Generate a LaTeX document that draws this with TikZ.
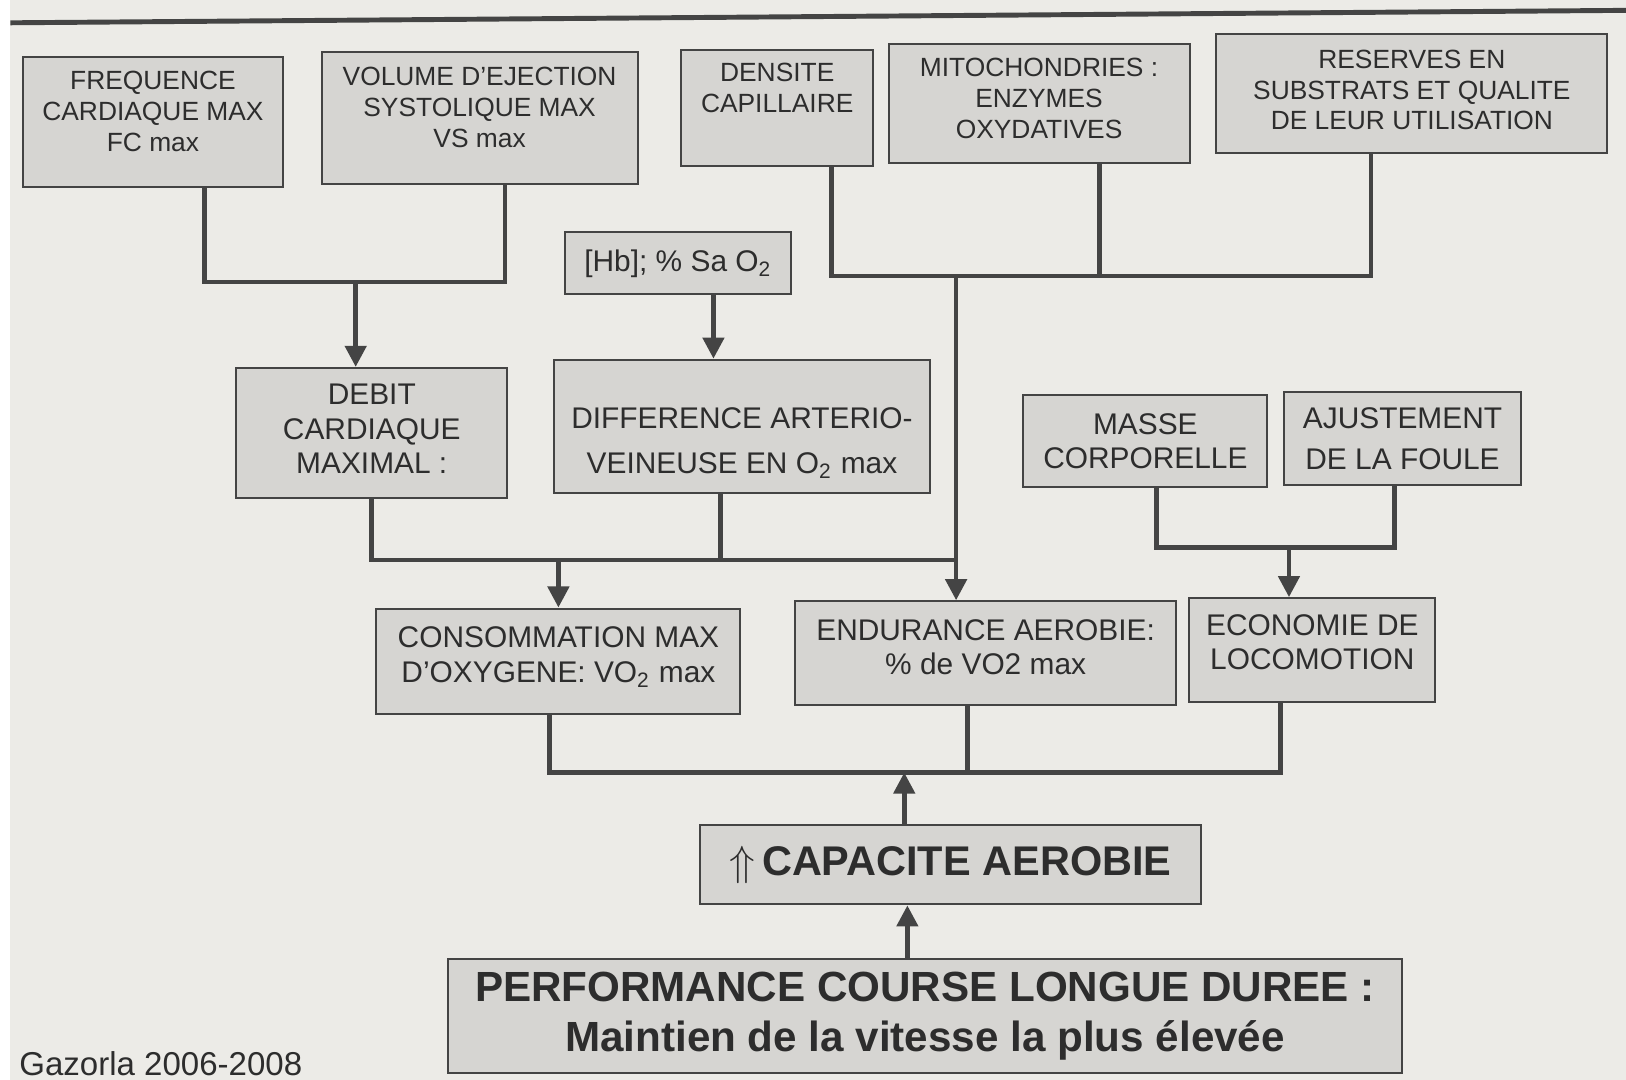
\documentclass[tikz,border=0pt]{standalone}
\usepackage{fontspec}
\setmainfont{Liberation Sans}
\usepackage{xcolor}
\usepackage{tikz}
\usetikzlibrary{arrows.meta}

\definecolor{fondo}{RGB}{236,235,231}
\definecolor{gris}{RGB}{214,213,210}
\definecolor{trazo}{RGB}{68,68,68}
\definecolor{texto}{RGB}{45,45,45}

\begin{document}
\begin{tikzpicture}[x=0.1037mm, y=-0.1037mm,
  caja/.style={draw=trazo, fill=gris, line width=0.6pt, align=center, inner sep=1pt, text=texto},
  chica/.style={caja, font=\fontsize{7.5}{8.8}\selectfont},
  media/.style={caja, font=\fontsize{8.5}{9.8}\selectfont},
  grande/.style={caja, font=\bfseries\fontsize{12}{13.4}\selectfont},
  liga/.style={draw=trazo, line width=1.3pt},
  flecha/.style={liga, -{Triangle[width=6pt,length=6pt]}}]

% Marco y fondo
\useasboundingbox (0,0) rectangle (1568,1041);
\fill[fondo] (10,0) rectangle (1568,1041);
\draw[trazo, line width=1.4pt] (10,22) -- (1568,10);

% Fila superior
\node[chica, minimum width=26mm, minimum height=13mm, text depth=2.1mm] (freq) at (147.5,117.5) {FREQUENCE\\CARDIAQUE MAX\\FC max};
\node[chica, minimum width=31.6mm, minimum height=13.2mm, text depth=2.1mm] (vol) at (462.5,113.5) {VOLUME D'EJECTION\\SYSTOLIQUE MAX\\VS max};
\node[chica, minimum width=19.2mm, minimum height=11.6mm, text depth=4mm] (dens) at (749.5,104) {DENSITE\\CAPILLAIRE};
\node[chica, minimum width=30.1mm, minimum height=11.9mm, text depth=1mm] (mito) at (1002,99.5) {MITOCHONDRIES :\\ENZYMES\\OXYDATIVES};
\node[chica, minimum width=39.1mm, minimum height=11.9mm, text depth=0.8mm] (res) at (1361.5,90.5) {RESERVES EN\\SUBSTRATS ET QUALITE\\DE LEUR UTILISATION};
\node[media, minimum width=22.6mm, minimum height=6.2mm] (hb) at (654,254) {[Hb]; \% Sa O\textsubscript{2}};

% Fila central
\node[media, minimum width=27.1mm, minimum height=13mm, text depth=0.8mm] (debit) at (358.5,417.5) {DEBIT\\CARDIAQUE\\MAXIMAL :};
\node[media, minimum width=37.6mm, minimum height=13.3mm] (diff) at (715.5,411) {\rule{0pt}{5.4mm}DIFFERENCE ARTERIO-\\[3pt]VEINEUSE EN O\textsubscript{2} max};
\node[media, minimum width=24.4mm, minimum height=9.2mm] (masse) at (1104.5,425.5) {MASSE\\CORPORELLE};
\node[media, minimum width=23.7mm, minimum height=9.3mm] (ajust) at (1352.5,423) {AJUSTEMENT\\[2pt]DE LA FOULE};

% Fila inferior
\node[media, minimum width=36.4mm, minimum height=10.5mm, text depth=1.3mm] (conso) at (538.5,637.5) {CONSOMMATION MAX\\D'OXYGENE: VO\textsubscript{2} max};
\node[media, minimum width=38.1mm, minimum height=10.4mm, text depth=1.2mm] (endur) at (950.5,630) {ENDURANCE AEROBIE:\\\% de VO2 max};
\node[media, minimum width=24.6mm, minimum height=10.4mm, text depth=1.6mm] (eco) at (1265.5,627) {ECONOMIE DE\\LOCOMOTION};

% Capacidad y rendimiento
\node[caja, font=\bfseries\fontsize{11.8}{13}\selectfont, minimum width=50.1mm, minimum height=7.9mm] (capa) at (916.5,834) {$\Uparrow$\,CAPACITE AEROBIE};
\node[grande, minimum width=95.4mm, minimum height=11.4mm] (perf) at (892,980) {PERFORMANCE COURSE LONGUE DUREE :\\[1pt]Maintien de la vitesse la plus élevée};

% Puntos de union
\coordinate (fc) at (197,272);
\coordinate (vs) at (487,272);
\coordinate (qc) at (343,272);
\coordinate (hx) at (688,300);
\coordinate (dc) at (802,266);
\coordinate (mc) at (1060,266);
\coordinate (rc) at (1322,266);
\coordinate (ec) at (922,266);
\coordinate (dd) at (358,540);
\coordinate (df) at (695,540);
\coordinate (mm) at (1115,528);
\coordinate (aj) at (1345,528);
\coordinate (lc) at (1243,528);
\coordinate (bc) at (530,745);
\coordinate (be) at (933,745);
\coordinate (bl) at (1235,745);
\coordinate (ca) at (872,745);
\coordinate (pf) at (875,900);

% Conectores
\draw[liga] (freq.south -| fc) -- (fc) -- (vs) -- (vol.south -| vs);
\draw[flecha] (qc) -- (debit.north -| qc);
\draw[flecha] (hb.south -| hx) -- (diff.north -| hx);

\draw[liga] (dens.south -| dc) -- (dc) -- (rc) -- (res.south -| rc);
\draw[liga] (mito.south -| mc) -- (mc);
\draw[flecha] (ec) -- (endur.north -| ec);

\draw[liga] (debit.south -| dd) -- (dd) -- (ec |- dd);
\draw[liga] (diff.south -| df) -- (df);
\draw[flecha] (conso.north |- dd) -- (conso.north);

\draw[liga] (masse.south -| mm) -- (mm) -- (aj) -- (ajust.south -| aj);
\draw[flecha] (lc) -- (eco.north -| lc);

\draw[liga] (conso.south -| bc) -- (bc) -- (bl) -- (eco.south -| bl);
\draw[liga] (endur.south -| be) -- (be);
\draw[flecha] (capa.north -| ca) -- (ca);
\draw[flecha] (perf.north -| pf) -- (capa.south -| pf);

% Fuente
\node[anchor=base west, text=texto, font=\fontsize{9.4}{11}\selectfont, inner sep=0pt] (fuente) at (18,1037) {Gazorla 2006-2008};

\end{tikzpicture}
\end{document}
